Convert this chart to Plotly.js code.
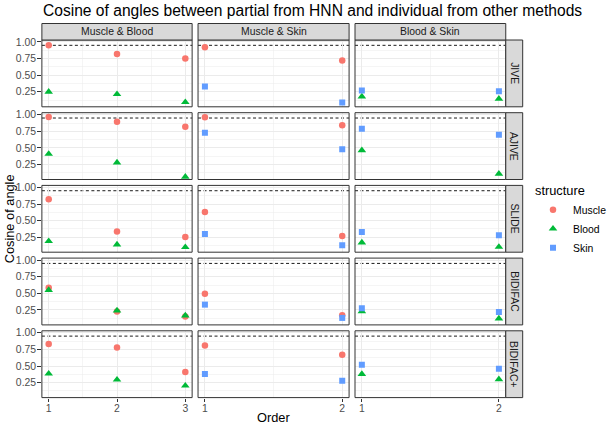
<!DOCTYPE html>
<html>
<head>
<meta charset="utf-8">
<script src="https://cdn.plot.ly/plotly-3.0.1.min.js"></script>
<style>html,body{margin:0;padding:0;background:#fff;}#chart{width:612px;height:430px;}</style>
</head>
<body>
<div id="chart"></div>
<script>
// ---- data ----
const methods = ['JIVE', 'AJIVE', 'SLIDE', 'BIDIFAC', 'BIDIFAC+'];
const pairs = ['Muscle & Blood', 'Muscle & Skin', 'Blood & Skin'];
const structures = ['Muscle', 'Blood', 'Skin'];
const ordersMB = [1, 2, 3];
const ordersPair = [1, 2];
const tickLabelsMB = ['1', '2', '3'];
const tickLabelsPair = ['1', '2'];
const yTickVals = [0.25, 0.5, 0.75, 1.0];
const yTickLabels = ['0.25', '0.50', '0.75', '1.00'];
const threshold = 0.95;

// rows follow `methods`
const muscle_MB = [[0.95, 0.82, 0.75], [0.965, 0.895, 0.82], [0.82, 0.335, 0.255], [0.585, 0.225, 0.15], [0.83, 0.78, 0.41]];
const blood_MB  = [[0.25, 0.215, 0.095], [0.41, 0.28, 0.065], [0.19, 0.14, 0.10], [0.55, 0.24, 0.165], [0.385, 0.295, 0.205]];
const muscle_MS = [[0.92, 0.72], [0.96, 0.84], [0.63, 0.27], [0.495, 0.17], [0.81, 0.67]];
const skin_MS   = [[0.33, 0.09], [0.73, 0.48], [0.30, 0.13], [0.33, 0.13], [0.38, 0.28]];
const blood_BS  = [[0.18, 0.145], [0.465, 0.11], [0.17, 0.105], [0.23, 0.12], [0.38, 0.30]];
const skin_BS   = [[0.27, 0.26], [0.79, 0.70], [0.33, 0.28], [0.275, 0.22], [0.52, 0.46]];

// ---- styling ----
const W = 612, H = 430;
const colors = {Muscle: '#F8766D', Blood: '#00BA38', Skin: '#619CFF'};
const symbols = {Muscle: 'circle', Blood: 'triangle-up', Skin: 'square'};
const sizes = {Muscle: 6.5, Blood: 7.5, Skin: 6};
const colPx = [[42.5, 195], [201, 354.3], [360.3, 513.3]];
const rowTop0 = 40, rowStep = 72.7, rowH = 66.8;
const stripTop = 23.5, stripRight = 530.5;
const FONT = 'Liberation Sans, Arial, sans-serif';
const SMALL = 10.4, MID = 12.8, BIG = 15.6;
const fx = p => p / W;
const fy = p => 1 - p / H;

const panelSeries = [
  [['Muscle', muscle_MB], ['Blood', blood_MB]],
  [['Muscle', muscle_MS], ['Skin', skin_MS]],
  [['Blood', blood_BS], ['Skin', skin_BS]]
];

const traces = [];
const shown = {};
const layout = {
  width: W, height: H,
  margin: {l: 0, r: 0, t: 0, b: 0},
  paper_bgcolor: '#fff', plot_bgcolor: '#fff',
  font: {family: FONT, color: '#1A1A1A'},
  showlegend: true,
  legend: {
    x: fx(541), y: fy(178.5), xanchor: 'left', yanchor: 'top',
    title: {text: 'structure', font: {size: MID, color: '#000'}},
    font: {size: SMALL, color: '#000'},
    bgcolor: 'rgba(0,0,0,0)', itemwidth: 30, tracegroupgap: 0
  },
  shapes: [], annotations: []
};

for (let r = 0; r < methods.length; r++) {
  const top = rowTop0 + r * rowStep, bot = top + rowH;
  for (let c = 0; c < pairs.length; c++) {
    const k = r * 3 + c + 1;
    const xs = c === 0 ? ordersMB : ordersPair;
    const xn = 'x' + (k === 1 ? '' : k), yn = 'y' + (k === 1 ? '' : k);
    const xa = 'xaxis' + (k === 1 ? '' : k), ya = 'yaxis' + (k === 1 ? '' : k);
    for (const [s, arr] of panelSeries[c]) {
      traces.push({
        type: 'scatter', mode: 'markers', x: xs, y: arr[r],
        xaxis: xn, yaxis: yn, name: s, legendgroup: s,
        showlegend: !shown[s],
        marker: {color: colors[s], symbol: symbols[s], size: sizes[s], line: {width: 0}},
        hoverinfo: 'skip'
      });
      shown[s] = true;
    }
    const lastRow = r === methods.length - 1;
    layout[xa] = {
      domain: [fx(colPx[c][0]), fx(colPx[c][1])], anchor: yn,
      range: c === 0 ? [0.9, 3.1] : [0.95, 2.05],
      tickmode: 'array', tickvals: xs, ticktext: c === 0 ? tickLabelsMB : tickLabelsPair,
      showticklabels: lastRow, ticks: lastRow ? 'outside' : '', ticklen: 3.7, tickwidth: 1, tickcolor: '#333333',
      ticklabelstandoff: -3,
      tickfont: {size: SMALL, color: '#4D4D4D', family: FONT},
      showgrid: true, gridcolor: '#EBEBEB', gridwidth: 1,
      minor: {tick0: 1.5, dtick: 1, showgrid: true, gridcolor: '#EBEBEB', gridwidth: 0.5, ticks: ''},
      zeroline: false, showline: false, fixedrange: true
    };
    layout[ya] = {
      domain: [fy(bot), fy(top)], anchor: xn,
      range: [0.025, 1.03],
      tickmode: 'array', tickvals: yTickVals, ticktext: yTickLabels,
      showticklabels: c === 0, ticks: c === 0 ? 'outside' : '', ticklen: 3.7, tickwidth: 1, tickcolor: '#333333',
      ticklabelstandoff: -1,
      tickfont: {size: SMALL, color: '#4D4D4D', family: FONT},
      showgrid: true, gridcolor: '#EBEBEB', gridwidth: 1,
      minor: {tick0: 0.125, dtick: 0.25, showgrid: true, gridcolor: '#EBEBEB', gridwidth: 0.5, ticks: ''},
      zeroline: false, showline: false, fixedrange: true
    };
    // threshold line
    layout.shapes.push({type: 'line', xref: xn + ' domain', yref: yn, x0: 0, x1: 1, y0: threshold, y1: threshold,
      line: {color: '#000', width: 0.9, dash: '3px,2.5px'}, layer: 'below'});
    // panel border
    layout.shapes.push({type: 'rect', xref: xn + ' domain', yref: yn + ' domain', x0: 0, x1: 1, y0: 0, y1: 1,
      line: {color: '#333333', width: 1}, fillcolor: 'rgba(0,0,0,0)', layer: 'above'});
    // top strips
    if (r === 0) {
      layout.shapes.push({type: 'rect', xref: 'paper', yref: 'paper',
        x0: fx(colPx[c][0]), x1: fx(colPx[c][1]), y0: fy(top), y1: fy(stripTop),
        line: {color: '#333333', width: 1}, fillcolor: '#D9D9D9', layer: 'above'});
      layout.annotations.push({xref: 'paper', yref: 'paper', x: fx((colPx[c][0] + colPx[c][1]) / 2), y: fy((top + stripTop) / 2),
        text: pairs[c], showarrow: false, xanchor: 'center', yanchor: 'middle',
        font: {size: SMALL, color: '#1A1A1A', family: FONT}});
    }
  }
  // right strips
  layout.shapes.push({type: 'rect', xref: 'paper', yref: 'paper',
    x0: fx(colPx[2][1]), x1: fx(stripRight), y0: fy(bot), y1: fy(top),
    line: {color: '#333333', width: 1}, fillcolor: '#D9D9D9', layer: 'above'});
  layout.annotations.push({xref: 'paper', yref: 'paper', x: fx((colPx[2][1] + stripRight) / 2), y: fy((top + bot) / 2),
    text: methods[r], textangle: 90, showarrow: false, xanchor: 'center', yanchor: 'middle',
    font: {size: SMALL, color: '#1A1A1A', family: FONT}});
}

// titles
layout.annotations.push({xref: 'paper', yref: 'paper', x: fx(42), y: fy(10.5), xanchor: 'left', yanchor: 'middle',
  text: 'Cosine of angles between partial from HNN and individual from other methods', showarrow: false,
  font: {size: BIG, color: '#000', family: FONT}});
layout.annotations.push({xref: 'paper', yref: 'paper', x: fx(278), y: fy(417.5), xanchor: 'center', yanchor: 'middle',
  text: 'Order', showarrow: false, font: {size: MID, color: '#000', family: FONT}});
layout.annotations.push({xref: 'paper', yref: 'paper', x: fx(10), y: fy(218.5), xanchor: 'center', yanchor: 'middle',
  text: 'Cosine of angle', textangle: -90, showarrow: false, font: {size: MID, color: '#000', family: FONT}});

Plotly.newPlot('chart', traces, layout, {staticPlot: true, displayModeBar: false});
</script>
</body>
</html>
